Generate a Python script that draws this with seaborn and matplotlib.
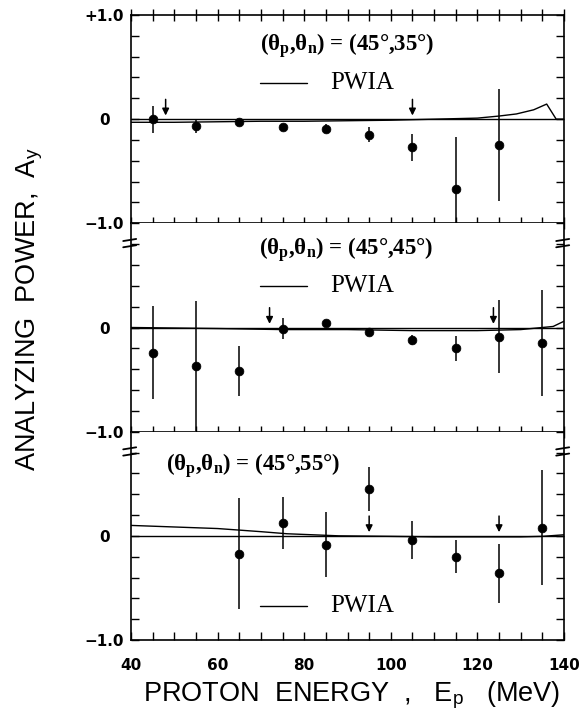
import numpy as np
import pandas as pd
import matplotlib
matplotlib.use("Agg")
import matplotlib.pyplot as plt
import seaborn as sns
from matplotlib.ticker import MultipleLocator, FixedLocator

# ---------------- data ----------------
panel_labels = [r"($\mathbf{\theta_p}$,$\mathbf{\theta_n}$) = (45°,35°)",
                r"($\mathbf{\theta_p}$,$\mathbf{\theta_n}$) = (45°,45°)",
                r"($\mathbf{\theta_p}$,$\mathbf{\theta_n}$) = (45°,55°)"]

# panel 1: (45,35)
e1 = [45, 55, 65, 75, 85, 95, 105, 115, 125]
a1 = [0.00, -0.07, -0.03, -0.08, -0.09, -0.15, -0.27, -0.67, -0.25]
d1 = [0.13, 0.06, 0.03, 0.03, 0.04, 0.07, 0.13, 0.50, 0.54]
arr1 = [48, 105]
pw_e1 = [40, 50, 60, 70, 80, 90, 100, 110, 120, 125, 129, 133, 136, 138.2, 140]
pw_a1 = [-0.03, -0.03, -0.025, -0.02, -0.02, -0.015, -0.01, 0.0, 0.01, 0.03, 0.05, 0.09, 0.145, 0.0, 0.0]

# panel 2: (45,45)
e2 = [45, 55, 65, 75, 85, 95, 105, 115, 125, 135]
a2 = [-0.24, -0.37, -0.42, -0.01, 0.04, -0.04, -0.12, -0.20, -0.09, -0.15]
d2 = [0.45, 0.62, 0.24, 0.10, 0.03, 0.02, 0.05, 0.12, 0.35, 0.51]
arr2 = [72, 123.7]
pw_e2 = [40, 60, 75, 90, 105, 120, 130, 135, 137.5, 140]
pw_a2 = [0.0, -0.01, -0.02, -0.02, -0.03, -0.03, -0.02, 0.0, 0.01, 0.06]

# panel 3: (45,55)
e3 = [65, 75, 85, 95, 105, 115, 125, 135]
a3 = [-0.17, 0.12, -0.085, 0.45, -0.04, -0.20, -0.36, 0.08]
d3 = [0.53, 0.25, 0.31, 0.21, 0.18, 0.16, 0.28, 0.55]
arr3 = [95, 125]
pw_e3 = [40, 50, 60, 65, 70, 76, 82, 88, 100, 110, 120, 130, 135, 140]
pw_a3 = [0.10, 0.085, 0.07, 0.055, 0.04, 0.02, 0.01, 0.0, -0.005, -0.01, -0.01, -0.01, -0.005, 0.01]

x_ticks = [40, 60, 80, 100, 120, 140]

panels = [
    dict(e=e1, a=a1, d=d1, arr=arr1, pe=pw_e1, pa=pw_a1, lab=(90, 0.71), pw=0.35),
    dict(e=e2, a=a2, d=d2, arr=arr2, pe=pw_e2, pa=pw_a2, lab=(89.7, 0.75), pw=0.40),
    dict(e=e3, a=a3, d=d3, arr=arr3, pe=pw_e3, pa=pw_a3, lab=(68.2, 0.67), pw=-0.67),
]

# ---------------- style ----------------
sns.set_theme(style="ticks")
plt.rcParams['font.family'] = ['Liberation Sans', 'DejaVu Sans']
plt.rcParams['mathtext.fontset'] = 'custom'
plt.rcParams['mathtext.rm'] = 'Liberation Serif:bold'
plt.rcParams['mathtext.it'] = 'Liberation Serif:bold'
plt.rcParams['mathtext.bf'] = 'Liberation Serif:bold'
for key in ['text.color', 'axes.labelcolor', 'xtick.color', 'ytick.color', 'axes.edgecolor']:
    plt.rcParams[key] = 'black'

fig = plt.figure(figsize=(5.85, 7.14), dpi=100)
gs = fig.add_gridspec(3, 1, left=131/585, right=564/585, top=1-15/714, bottom=1-640/714, hspace=0)
axes = [fig.add_subplot(gs[i]) for i in range(3)]

tick_font = dict(family='DejaVu Sans', weight='bold', size=11, color='black')

for i, (ax, p) in enumerate(zip(axes, panels)):
    ax.set_xlim(40, 140)
    ax.set_ylim(-1.0, 1.0)
    ax.axhline(0, color='black', lw=1.0, zorder=1)
    df_pw = pd.DataFrame({'E': p['pe'], 'A': p['pa']})
    sns.lineplot(data=df_pw, x='E', y='A', ax=ax, color='black', lw=1.0, zorder=2,
                 estimator=None, sort=False)
    ax.errorbar(p['e'], p['a'], yerr=p['d'], fmt='none', ecolor='black', elinewidth=1.1,
                capsize=0, clip_on=False, zorder=3)
    df_pt = pd.DataFrame({'E': p['e'], 'A': p['a']})
    sns.scatterplot(data=df_pt, x='E', y='A', ax=ax, color='black', s=40, edgecolor='black',
                    zorder=4, clip_on=False)
    for xa in p['arr']:
        ax.annotate('', xy=(xa, 0.035), xytext=(xa, 0.19),
                    arrowprops=dict(arrowstyle='-|>', color='black', lw=1.1,
                                    mutation_scale=10, shrinkA=0, shrinkB=0))
    # panel label
    ax.text(p['lab'][0], p['lab'][1], panel_labels[i], fontsize=16.5,
            family='Liberation Serif', fontweight='bold', ha='center', va='center')
    # legend-like PWIA entry
    ax.plot([69.8, 80.6], [p['pw'], p['pw']], color='black', lw=1.0)
    ax.text(86, p['pw'], 'PWIA', fontsize=18, family='Liberation Serif', ha='left', va='center')

    ax.set_xlabel('')
    ax.set_ylabel('')
    ax.xaxis.set_major_locator(FixedLocator(x_ticks))
    ax.xaxis.set_minor_locator(MultipleLocator(5))
    ax.yaxis.set_minor_locator(MultipleLocator(0.2))
    ax.tick_params(axis='y', which='both', direction='in', left=True, right=True,
                   length=6, width=1.0, pad=19, colors='black')
    ax.tick_params(axis='x', which='both', length=6, width=1.0, pad=13,
                   top=(i == 0), bottom=True, direction='in', colors='black')
    if i < 2:
        ax.tick_params(axis='x', which='both', direction='inout', length=9, labelbottom=False)
    if i == 0:
        ax.set_yticks([-1.0, 0.0, 1.0])
        ax.set_yticklabels(['\u22121.0', '0', '+1.0'], fontdict=tick_font)
    else:
        ax.set_yticks([-1.0, 0.0])
        ax.set_yticklabels(['\u22121.0', '0'], fontdict=tick_font)
        ax.spines['top'].set_visible(False)
        # break marks on left/right spines
        for xs in (0.0, 1.0):
            for yb in (0.92, 0.89):
                ax.plot([xs - 0.018, xs + 0.012], [yb - 0.005, yb + 0.005],
                        transform=ax.transAxes, color='black', lw=1.3, clip_on=False)
    for lab in ax.get_yticklabels():
        lab.set_horizontalalignment('center')
    for s in ax.spines.values():
        s.set_linewidth(1.2)
        s.set_color('black')

axes[2].set_xticks(x_ticks)
axes[2].set_xticklabels([str(v) for v in x_ticks], fontdict=tick_font)

fig.text(30/585, 1-309/714, 'ANALYZING  POWER,  A$_\\mathregular{y}$', rotation=90, fontsize=19.5,
         family='Liberation Sans', ha='center', va='center', color='black')
fig.text(352/585, 1-695/714, 'PROTON  ENERGY  ,   E$_\\mathregular{p}$   (MeV)', fontsize=19.5,
         family='Liberation Sans', ha='center', va='center', color='black')

fig.savefig('out.png', dpi=100)
